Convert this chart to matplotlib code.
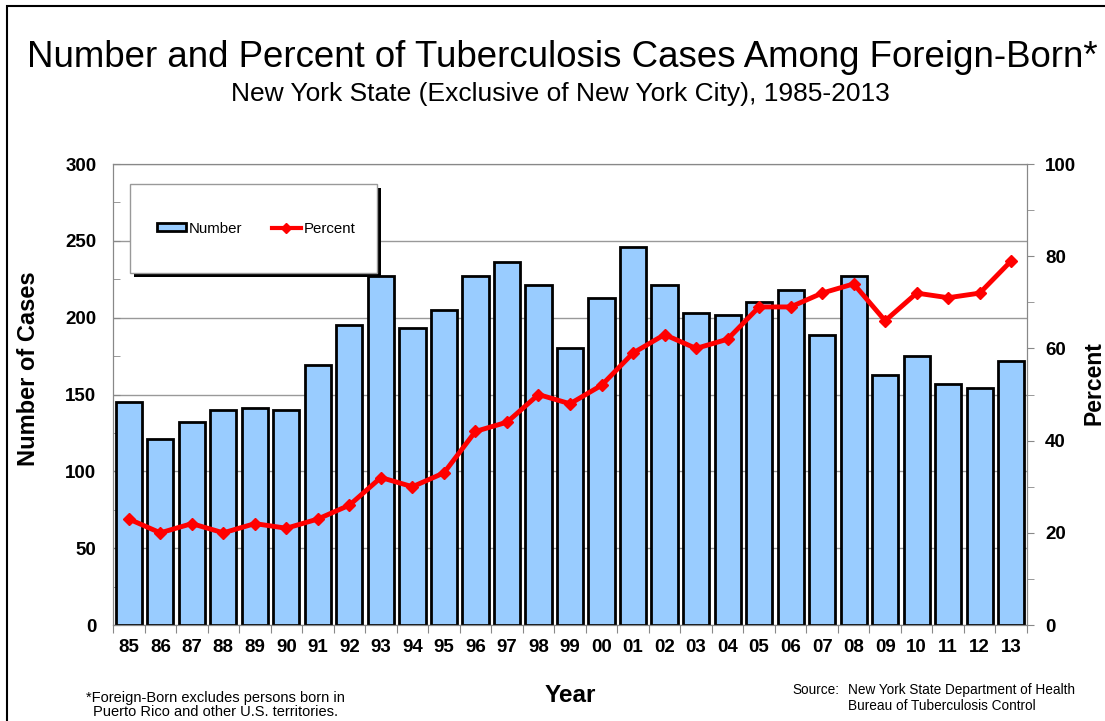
import numpy as np
import matplotlib.pyplot as plt
from matplotlib.patches import Rectangle
from matplotlib.lines import Line2D

plt.rcParams['font.family'] = ['Liberation Sans', 'DejaVu Sans']

years = ['85', '86', '87', '88', '89', '90', '91', '92', '93', '94', '95', '96', '97', '98', '99',
         '00', '01', '02', '03', '04', '05', '06', '07', '08', '09', '10', '11', '12', '13']
cases = [145, 121, 132, 140, 141, 140, 169, 195, 227, 193, 205, 227, 236, 221, 180,
         213, 246, 221, 203, 202, 210, 218, 189, 227, 163, 175, 157, 154, 172]
percent = [23, 20, 22, 20, 22, 21, 23, 26, 32, 30, 33, 42, 44, 50, 48,
           52, 59, 63, 60, 62, 69, 69, 72, 74, 66, 72, 71, 72, 79]

bar_color = '#99CCFF'
line_color = '#FF0000'

fig = plt.figure(figsize=(11.05, 7.21), dpi=100)
ax = fig.add_axes([0.1023, 0.1331, 0.8271, 0.6394])
x = np.arange(len(years))

ax.bar(x, cases, width=0.83, color=bar_color, edgecolor='black', linewidth=2, zorder=2)
ax.set_xlim(-0.5, len(years) - 0.5)
ax.set_ylim(0, 300)
ax.set_yticks(np.arange(0, 301, 50))
ax.set_yticks(np.arange(0, 301, 25), minor=True)
ax.yaxis.grid(True, which='major', color='#999999', linewidth=1)
ax.set_axisbelow(True)
ax.tick_params(axis='y', which='both', direction='in', length=5, color='#888888',
               labelsize=13.5, pad=12)
for lab in ax.get_yticklabels():
    lab.set_fontweight('bold')

# x ticks at category boundaries, labels centered
ax.set_xticks(np.arange(-0.5, len(years), 1))
ax.set_xticklabels([])
ax.set_xticks(x, minor=True)
ax.set_xticklabels(years, minor=True, fontsize=13.5, fontweight='bold')
ax.tick_params(axis='x', which='major', direction='out', length=6, color='#888888')
ax.tick_params(axis='x', which='minor', length=0, pad=10)

for s in ax.spines.values():
    s.set_color('#888888')

ax.set_ylabel('Number of Cases', fontsize=17, fontweight='bold')
ax.yaxis.set_label_coords(-0.08, 0.557)
ax.set_xlabel('Year', fontsize=17.5, fontweight='bold', labelpad=20)

ax2 = ax.twinx()
ax2.plot(x, percent, color=line_color, linewidth=3.5, marker='D', markersize=6, zorder=3)
ax2.set_ylim(0, 100)
ax2.set_yticks(np.arange(0, 101, 20))
ax2.set_yticks(np.arange(0, 101, 10), minor=True)
ax2.tick_params(axis='y', which='both', direction='out', length=5, color='#888888',
                labelsize=13.5, pad=8)
for lab in ax2.get_yticklabels():
    lab.set_fontweight('bold')
for s in ax2.spines.values():
    s.set_color('#888888')
ax2.set_ylabel('Percent', fontsize=16.5, fontweight='bold')
ax2.yaxis.set_label_coords(1.061, 0.525)

# legend box with shadow
lx, ly, lw, lh = 0.0186, 0.7636, 0.2702, 0.193
ax2.add_patch(Rectangle((lx + 0.004, ly - 0.009), lw, lh, transform=ax2.transAxes,
                        facecolor='black', edgecolor='none', zorder=4))
ax2.add_patch(Rectangle((lx, ly), lw, lh, transform=ax2.transAxes,
                        facecolor='white', edgecolor='#999999', linewidth=1, zorder=5))
handles = [Rectangle((0, 0), 1, 1, facecolor=bar_color, edgecolor='black', linewidth=2),
           Line2D([], [], color=line_color, linewidth=3, marker='D', markersize=5)]
leg = ax2.legend(handles, ['Number', 'Percent'], ncol=2, frameon=False,
                 loc='center', bbox_to_anchor=(lx + lw / 2 + 0.003, ly + lh / 2),
                 fontsize=10.8, handlelength=1.9, handleheight=0.5,
                 handletextpad=0.2, columnspacing=2.0)
leg.set_zorder(6)

fig.text(0.509, 0.92, 'Number and Percent of Tuberculosis Cases Among Foreign-Born*',
         ha='center', va='center', fontsize=26.4)
fig.text(0.507, 0.869, 'New York State (Exclusive of New York City), 1985-2013',
         ha='center', va='center', fontsize=19)

fig.text(0.195, 0.022, '*Foreign-Born excludes persons born in\nPuerto Rico and other U.S. territories.',
         ha='center', va='center', fontsize=10.5, linespacing=1.05)
fig.text(0.717, 0.043, 'Source:', ha='left', va='center', fontsize=9.8)
fig.text(0.767, 0.043, 'New York State Department of Health', ha='left', va='center', fontsize=9.8)
fig.text(0.767, 0.021, 'Bureau of Tuberculosis Control', ha='left', va='center', fontsize=9.8)

# page border
fig.add_artist(Rectangle((0.0065, -0.05), 1.1, 1.042, transform=fig.transFigure,
                         facecolor='none', edgecolor='black', linewidth=1.5))

fig.savefig('out.png', dpi=100)
